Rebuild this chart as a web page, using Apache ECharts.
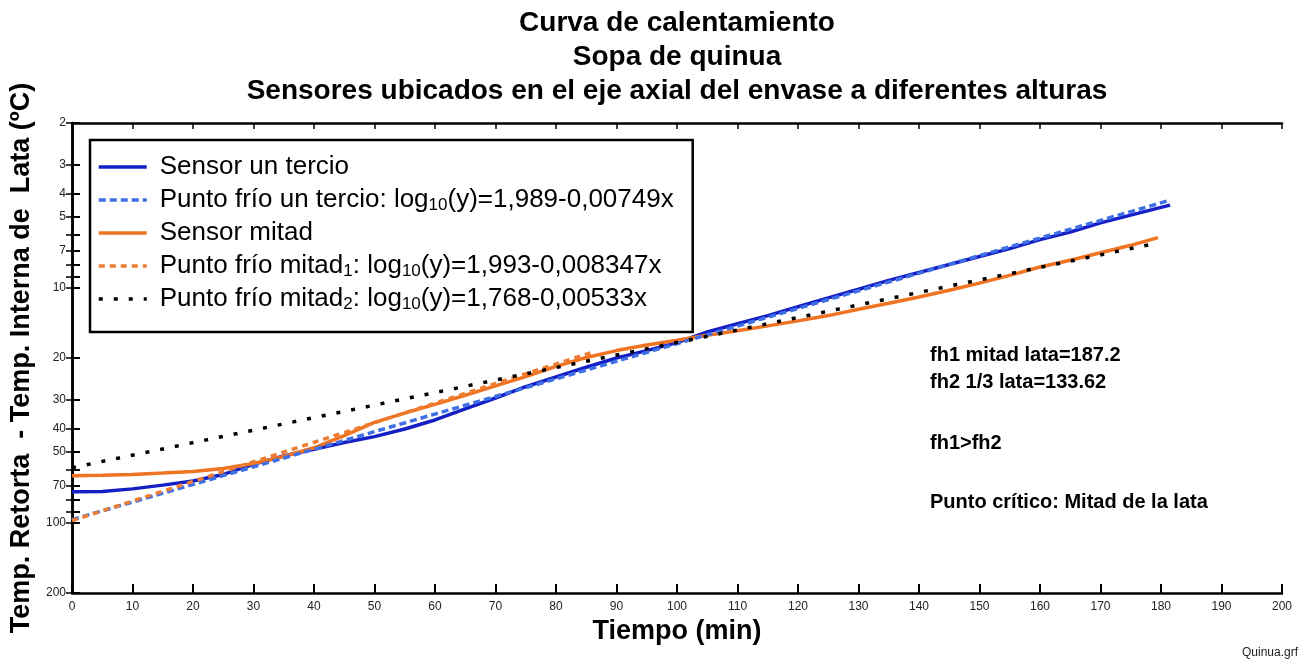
<!DOCTYPE html>
<html>
<head>
<meta charset="utf-8">
<script src="https://cdn.jsdelivr.net/npm/echarts@6/dist/echarts.min.js"></script>
<style>
  html, body { margin: 0; padding: 0; background: #ffffff; }
  #chart { width: 1309px; height: 664px; }
</style>
</head>
<body>
<div id="chart"></div>
<script>
const FONT = '"Liberation Sans", Arial, Helvetica, sans-serif';

// Sensor at one third of the can height: time (min) vs retort - can temperature (°C)
const tiempoTercio = [0, 5, 10, 15, 20, 25, 30, 35, 40, 45, 50, 55, 60, 65, 70, 75, 80, 85, 90, 95,
  100, 105, 110, 115, 120, 125, 130, 135, 140, 145, 150, 155, 160, 165, 170, 175, 180, 181.5];
const sensorTercio = [74.2, 74.0, 72.1, 69.5, 66.7, 62.6, 56.7, 52.2, 48.9, 45.8, 43.2, 40.1, 36.7, 32.9, 29.6, 26.5, 24.1, 21.9, 20.0, 18.6,
  17.2, 15.5, 14.3, 13.2, 12.1, 11.1, 10.2, 9.35, 8.65, 8.0, 7.4, 6.85, 6.27, 5.82, 5.32, 4.93, 4.57, 4.47];

// Sensor at half of the can height
const tiempoMitad = [0, 5, 10, 15, 20, 25, 30, 35, 40, 45, 50, 55, 60, 65, 70, 75, 80, 85, 90, 95,
  100, 105, 110, 115, 120, 125, 130, 135, 140, 145, 150, 155, 160, 165, 170, 175, 179.5];
const sensorMitad = [63.4, 63.1, 62.6, 61.7, 60.8, 59.0, 56.2, 52.5, 48.2, 42.8, 37.6, 34.3, 31.5, 28.8, 26.3, 24.0, 21.7, 19.9, 18.6, 17.6,
  16.8, 16.0, 15.3, 14.6, 13.9, 13.2, 12.4, 11.7, 11.0, 10.3, 9.6, 8.9, 8.2, 7.67, 7.13, 6.63, 6.15];

// Straight-line fits (on the log scale): start and end points
const ajusteTercioX = [0, 181.5];
const ajusteTercioY = [97.5, 4.26];
const ajusteMitad1X = [0, 86];
const ajusteMitad1Y = [98.4, 18.9];
const ajusteMitad2X = [0, 178];
const ajusteMitad2Y = [58.6, 6.6];

// Series names and their legend texts
const nombres = ['Sensor un tercio', 'Punto frío un tercio', 'Sensor mitad', 'Punto frío mitad1', 'Punto frío mitad2'];
const textosLeyenda = [
  'Sensor un tercio',
  'Punto frío un tercio: log{sub|10}(y)=1,989-0,00749x',
  'Sensor mitad',
  'Punto frío mitad{sub|1}: log{sub|10}(y)=1,993-0,008347x',
  'Punto frío mitad{sub|2}: log{sub|10}(y)=1,768-0,00533x'
];

// Axis ticks
const yTickValues = [2, 3, 4, 5, 6, 7, 8, 9, 10, 20, 30, 40, 50, 60, 70, 80, 90, 100, 200];
const yLabelValues = [2, 3, 4, 5, 7, 10, 20, 30, 40, 50, 70, 100, 200];
const xMin = 0, xMax = 200, xStep = 10;

// Side notes
const notas = ['fh1 mitad lata=187.2', 'fh2 1/3 lata=133.62', 'fh1>fh2', 'Punto crítico: Mitad de la lata'];

function pares(xs, ys) { return xs.map((x, i) => [x, ys[i]]); }

const chart = echarts.init(document.getElementById('chart'), null, { renderer: 'canvas' });

const axisLine = { show: true, lineStyle: { color: '#000', width: 2.5 } };

const yAxisBase = {
  type: 'log', logBase: 10, min: 2, max: 200, inverse: true,
  splitLine: { show: false }, axisLine: axisLine
};

const option = {
  backgroundColor: '#ffffff',
  animation: false,
  title: {
    text: 'Curva de calentamiento\nSopa de quinua\nSensores ubicados en el eje axial del envase a diferentes alturas',
    left: 672, top: 1, textAlign: 'center',
    textStyle: { fontFamily: FONT, fontSize: 28, fontWeight: 'bold', color: '#000', lineHeight: 34 }
  },
  grid: { left: 72, right: 27, top: 123, bottom: 71, containLabel: false },
  legend: {
    orient: 'vertical', left: 90, top: 140,
    data: nombres,
    itemWidth: 48, itemHeight: 14, itemGap: 5,
    padding: [13, 19, 19, 7],
    borderColor: '#000', borderWidth: 2.5, backgroundColor: '#fff',
    itemStyle: { opacity: 0 },
    lineStyle: { width: 3.5 },
    formatter: name => textosLeyenda[nombres.indexOf(name)],
    textStyle: {
      fontFamily: FONT, fontSize: 26, color: '#000', lineHeight: 28, padding: [0, 0, 0, 8],
      rich: { sub: { fontFamily: FONT, fontSize: 17, lineHeight: 16, verticalAlign: 'bottom', color: '#000' } }
    }
  },
  xAxis: [{
    type: 'value', min: xMin, max: xMax, interval: xStep,
    name: 'Tiempo (min)', nameLocation: 'middle', nameGap: 25,
    nameTextStyle: { fontFamily: FONT, fontSize: 27, fontWeight: 'bold', color: '#000' },
    splitLine: { show: false }, axisLine: axisLine,
    axisTick: { inside: true, length: 9, lineStyle: { color: '#000', width: 2 } },
    axisLabel: { fontFamily: FONT, fontSize: 12, color: '#222', margin: 8 }
  }, {
    type: 'value', min: xMin, max: xMax, interval: xStep, position: 'top',
    splitLine: { show: false }, axisLine: axisLine,
    axisTick: { inside: true, length: 6, lineStyle: { color: '#000', width: 1.5 } },
    axisLabel: { show: false }
  }],
  yAxis: [Object.assign({}, yAxisBase, {
    name: 'Temp. Retorta  - Temp. Interna de  Lata (ºC)', nameLocation: 'middle', nameGap: 36, nameRotate: 90,
    nameTextStyle: { fontFamily: FONT, fontSize: 27, fontWeight: 'bold', color: '#000' },
    axisTick: { inside: true, length: 8, customValues: yTickValues, lineStyle: { color: '#000', width: 2 } },
    axisLabel: { fontFamily: FONT, fontSize: 12, color: '#222', margin: 6, customValues: yLabelValues }
  }), Object.assign({}, yAxisBase, {
    position: 'right',
    axisTick: { inside: true, length: 6, customValues: yTickValues, lineStyle: { color: '#000', width: 1.5 } },
    axisLabel: { show: false }
  })],
  series: [{
    name: nombres[0], type: 'line', data: pares(tiempoTercio, sensorTercio),
    showSymbol: false, symbol: 'none', z: 2,
    lineStyle: { color: '#1420c6', width: 3.5 }, itemStyle: { color: '#1420c6' }
  }, {
    name: nombres[1], type: 'line', data: pares(ajusteTercioX, ajusteTercioY),
    showSymbol: false, symbol: 'none', z: 4,
    lineStyle: { color: '#3f6fe4', width: 3.5, type: [7, 4] }, itemStyle: { color: '#3f6fe4' }
  }, {
    name: nombres[2], type: 'line', data: pares(tiempoMitad, sensorMitad),
    showSymbol: false, symbol: 'none', z: 3,
    lineStyle: { color: '#f07322', width: 3.5 }, itemStyle: { color: '#f07322' }
  }, {
    name: nombres[3], type: 'line', data: pares(ajusteMitad1X, ajusteMitad1Y),
    showSymbol: false, symbol: 'none', z: 5,
    lineStyle: { color: '#ec7d33', width: 3.5, type: [6, 5] }, itemStyle: { color: '#ec7d33' }
  }, {
    name: nombres[4], type: 'line', data: pares(ajusteMitad2X, ajusteMitad2Y),
    showSymbol: false, symbol: 'none', z: 5,
    lineStyle: { color: '#000', width: 3.5, type: [4, 11] }, itemStyle: { color: '#000' }
  }],
  graphic: [
    { type: 'text', x: 930, y: 355, style: { text: notas[0], font: 'bold 20px ' + FONT, fill: '#000', verticalAlign: 'middle' } },
    { type: 'text', x: 930, y: 382, style: { text: notas[1], font: 'bold 20px ' + FONT, fill: '#000', verticalAlign: 'middle' } },
    { type: 'text', x: 930, y: 443, style: { text: notas[2], font: 'bold 20px ' + FONT, fill: '#000', verticalAlign: 'middle' } },
    { type: 'text', x: 930, y: 502, style: { text: notas[3], font: 'bold 20px ' + FONT, fill: '#000', verticalAlign: 'middle' } },
    { type: 'text', right: 11, bottom: 5, style: { text: 'Quinua.grf', font: '12px ' + FONT, fill: '#222' } }
  ]
};

chart.setOption(option);
</script>
</body>
</html>
